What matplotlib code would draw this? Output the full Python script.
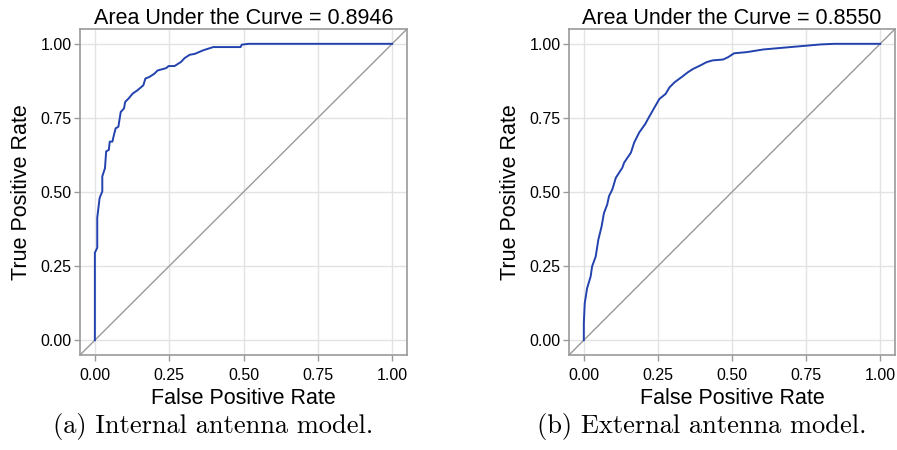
import matplotlib
matplotlib.use("Agg")
import matplotlib.pyplot as plt

# internal antenna model ROC
fpr_a = [0.0, 0.0, 0.008, 0.008, 0.016, 0.025, 0.025, 0.034, 0.038, 0.047, 0.05, 0.059,
         0.064, 0.07, 0.079, 0.087, 0.098, 0.102, 0.113, 0.127, 0.143, 0.163, 0.17,
         0.183, 0.2, 0.211, 0.24, 0.248, 0.268, 0.29, 0.302, 0.319, 0.336, 0.364,
         0.392, 0.398, 0.49, 0.494, 0.516, 1.0]
tpr_a = [0.0, 0.295, 0.312, 0.413, 0.48, 0.502, 0.553, 0.58, 0.637, 0.642, 0.67, 0.67,
         0.692, 0.715, 0.72, 0.77, 0.782, 0.804, 0.815, 0.832, 0.843, 0.86, 0.883,
         0.888, 0.899, 0.91, 0.918, 0.925, 0.925, 0.939, 0.952, 0.963, 0.966, 0.978,
         0.987, 0.989, 0.989, 0.997, 1.0, 1.0]

# external antenna model ROC
fpr_b = [0.0, 0.0, 0.003, 0.011, 0.023, 0.028, 0.04, 0.049, 0.06, 0.068, 0.079, 0.085,
         0.096, 0.108, 0.13, 0.136, 0.159, 0.17, 0.187, 0.207, 0.219, 0.232, 0.255,
         0.276, 0.289, 0.306, 0.329, 0.351, 0.368, 0.391, 0.414, 0.434, 0.47, 0.487,
         0.507, 0.55, 0.606, 0.72, 0.8, 0.845, 1.0]
tpr_b = [0.0, 0.056, 0.124, 0.175, 0.215, 0.249, 0.282, 0.339, 0.384, 0.429, 0.458, 0.486,
         0.508, 0.548, 0.582, 0.599, 0.633, 0.667, 0.701, 0.729, 0.751, 0.774, 0.814,
         0.831, 0.853, 0.87, 0.887, 0.904, 0.915, 0.926, 0.938, 0.944, 0.947, 0.955,
         0.968, 0.972, 0.981, 0.991, 0.998, 1.0, 1.0]

aucs = ["0.8946", "0.8550"]
captions = ["(a) Internal antenna model.", "(b) External antenna model."]
ticks = [0.0, 0.25, 0.5, 0.75, 1.0]
tick_labels = ["0.00", "0.25", "0.50", "0.75", "1.00"]

W, H = 897, 450
fig = plt.figure(figsize=(W / 100, H / 100), dpi=100)
sans = "Liberation Sans"

boxes = [(80, 29, 327, 326), (569, 29, 326, 326)]
data = [(fpr_a, tpr_a), (fpr_b, tpr_b)]

for i, (x0, y0, w, h) in enumerate(boxes):
    ax = fig.add_axes([x0 / W, (H - y0 - h) / H, w / W, h / H])
    fpr, tpr = data[i]
    ax.plot([-0.05, 1.05], [-0.05, 1.05], color="#9a9a9a", lw=1.0, zorder=2)
    ax.plot(fpr, tpr, color="#2242ae", lw=1.4, zorder=3)
    ax.set_xlim(-0.05, 1.05)
    ax.set_ylim(-0.05, 1.05)
    ax.set_xticks(ticks)
    ax.set_yticks(ticks)
    ax.set_xticklabels(tick_labels, fontsize=11.5, family=sans)
    ax.set_yticklabels(tick_labels, fontsize=11.5, family=sans)
    ax.grid(True, color="#e3e3e3", lw=1.0, zorder=0)
    ax.set_axisbelow(True)
    for s in ax.spines.values():
        s.set_color("#9a9a9a")
        s.set_linewidth(1.2)
    ax.tick_params(color="#9a9a9a", length=4, width=1.0, labelcolor="black")
    ax.tick_params(axis="x", pad=5)
    ax.tick_params(axis="y", pad=2)
    ax.set_title("Area Under the Curve = " + aucs[i], fontsize=15.5, family=sans, pad=3)
    ax.set_xlabel("False Positive Rate", fontsize=15.5, family=sans, labelpad=4)
    ax.set_ylabel("True Positive Rate", fontsize=15.5, family=sans, labelpad=6)
    fig.text((x0 + w / 2 - 30) / W, 1 - 426 / H, captions[i], fontsize=19,
             family="cmr10", ha="center", va="center")

fig.savefig("out.png", dpi=100)
